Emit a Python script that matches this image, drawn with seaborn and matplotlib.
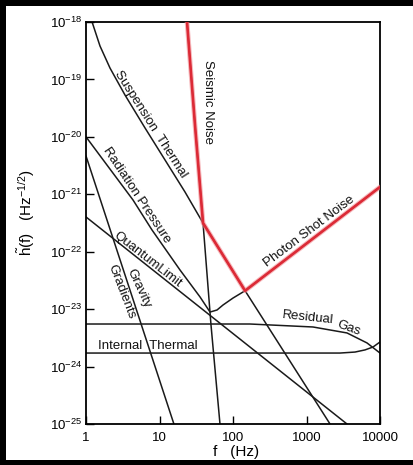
import numpy as np
import pandas as pd
import matplotlib
matplotlib.use("Agg")
import matplotlib.pyplot as plt
import seaborn as sns
from matplotlib.patches import Rectangle
from matplotlib.ticker import FixedLocator, FixedFormatter, NullLocator

# ---------------- data ----------------
susp_f = [1.21, 1.55, 2.12, 3.39, 6.35, 11.9, 22.2, 39.1, 146, 2090]
susp_h = [1.0e-18, 3.82e-19, 1.58e-19, 5.36e-20, 1.43e-20, 3.95e-21, 1.10e-21, 3.16e-22, 2.09e-23, 1.0e-25]

seis_f = [23.7, 30.4, 39.1, 50.2, 66.5]
seis_h = [1.0e-18, 1.61e-20, 3.16e-22, 5.30e-24, 1.0e-25]

quant_f = [1.0, 4.36, 7.91, 19.0, 35.6, 48.7, 60.6, 73.1, 100, 146, 10000]
quant_h = [1.0e-20, 7.96e-22, 2.39e-22, 4.81e-23, 1.63e-23, 8.9e-24, 9.66e-24, 1.18e-23, 1.56e-23, 2.09e-23, 1.34e-21]

ql_f = [1.0, 3556]
ql_h = [4.03e-22, 1.0e-25]

grav_f = [1.0, 15.7]
grav_h = [4.65e-21, 1.0e-25]

gas_f = [1.0, 170, 1225, 3556, 6653, 10000]
gas_h = [5.51e-24, 5.51e-24, 4.89e-24, 3.85e-24, 2.58e-24, 1.72e-24]

intth_f = [1.0, 2857, 4570, 6252, 8033, 10000]
intth_h = [1.72e-24, 1.72e-24, 1.79e-24, 1.95e-24, 2.19e-24, 2.68e-24]

env_f = [23.7, 30.4, 39.1, 146, 10000]
env_h = [1.0e-18, 1.61e-20, 3.16e-22, 2.09e-23, 1.34e-21]

xtick_vals = [1, 10, 100, 1000, 10000]
xtick_labels = ["1", "10", "100", "1000", "10000"]
ytick_vals = [1e-25, 1e-24, 1e-23, 1e-22, 1e-21, 1e-20, 1e-19, 1e-18]
ytick_labels = [r"$10^{-25}$", r"$10^{-24}$", r"$10^{-23}$", r"$10^{-22}$",
                r"$10^{-21}$", r"$10^{-20}$", r"$10^{-19}$", r"$10^{-18}$"]

# label text, position (data), rotation
labels = [
    ("Suspension  Thermal", 7.66, 1.67e-20, -57.5),
    ("Radiation Pressure", 4.94, 9.72e-22, -56.4),
    ("QuantumLimit", 6.97, 7.18e-23, -38),
    ("Gravity", 5.26, 2.33e-23, -65),
    ("Gradients", 2.99, 1.99e-23, -69),
    ("Seismic Noise", 45.7, 4.05e-20, -90),
    ("Photon Shot Noise", 1081, 2.3e-22, 37),
    ("Residual", 1048, 7.0e-24, -6),
    ("Gas", 3787, 4.7e-24, -20),
    ("Internal  Thermal", 6.97, 2.28e-24, 0),
]

# ---------------- style ----------------
sns.set_theme(style="ticks")
plt.rcParams["font.family"] = ["Liberation Sans", "DejaVu Sans"]
plt.rcParams["mathtext.fontset"] = "custom"
plt.rcParams["mathtext.rm"] = "Liberation Sans"
plt.rcParams["mathtext.it"] = "Liberation Sans"
plt.rcParams["mathtext.default"] = "regular"

W, H = 413, 465
fig = plt.figure(figsize=(W / 100, H / 100), dpi=100)
fig.patch.set_facecolor("black")
fig.patches.append(Rectangle((6 / W, 5 / H), (W - 6) / W, (460 - 6) / H,
                             transform=fig.transFigure, facecolor="white",
                             edgecolor="none", zorder=-10))
ax = fig.add_axes([86 / W, 41 / H, 294 / W, 402 / H])
ax.set_facecolor("white")
ax.set_xscale("log")
ax.set_yscale("log")

black_curves = [(susp_f, susp_h), (seis_f, seis_h), (quant_f, quant_h),
                (ql_f, ql_h), (grav_f, grav_h), (gas_f, gas_h), (intth_f, intth_h)]
for fx, hy in black_curves:
    sns.lineplot(x=fx, y=hy, ax=ax, color="#1a1a1a", linewidth=1.1,
                 sort=False, estimator=None)

sns.lineplot(x=env_f, y=env_h, ax=ax, color="#f08a90", linewidth=3.4,
             sort=False, estimator=None, alpha=0.6, zorder=4)
sns.lineplot(x=env_f, y=env_h, ax=ax, color="#dc2a36", linewidth=1.9,
             sort=False, estimator=None, zorder=5)

ax.set_xlim(1, 10000)
ax.set_ylim(1e-25, 1e-18)
ax.xaxis.set_major_locator(FixedLocator(xtick_vals))
ax.xaxis.set_major_formatter(FixedFormatter(xtick_labels))
ax.yaxis.set_major_locator(FixedLocator(ytick_vals))
ax.yaxis.set_major_formatter(FixedFormatter(ytick_labels))
ax.xaxis.set_minor_locator(NullLocator())
ax.yaxis.set_minor_locator(NullLocator())
ax.tick_params(axis="both", direction="in", length=6, width=1.0,
               color="black", labelsize=9.5, labelcolor="black")
ax.tick_params(axis="y", pad=3)
ax.tick_params(axis="x", pad=6)
for s in ax.spines.values():
    s.set_visible(True)
    s.set_color("black")
    s.set_linewidth(1.3)

for txt, fx, hy, rot in labels:
    ax.text(fx, hy, txt, rotation=rot, rotation_mode="anchor", ha="center",
            va="center", fontsize=9.5, color="#111111", zorder=6)

ax.set_xlabel("")
ax.set_ylabel("")
ax.text((236 - 86) / 294, (424 - 452) / 402, "f   (Hz)", transform=ax.transAxes,
        ha="center", va="center", fontsize=11, color="black")
ax.text((26 - 86) / 294, (424 - 212) / 402, r"$\tilde{h}$(f)   (Hz$^{-1/2}$)",
        transform=ax.transAxes, ha="center", va="center", rotation=90,
        fontsize=11, color="black")

fig.savefig("out.png", dpi=100, facecolor="black")
